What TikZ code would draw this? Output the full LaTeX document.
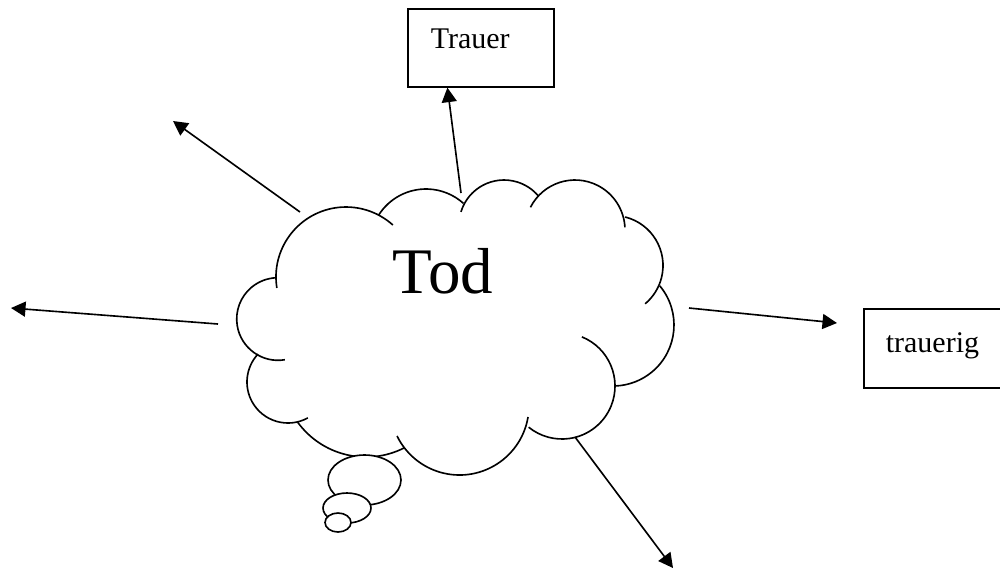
\documentclass[tikz,border=0pt]{standalone}
\usepackage{fontspec}
\setmainfont{Liberation Serif}
\usetikzlibrary{arrows.meta,positioning}
\begin{document}
\begin{tikzpicture}[x=0.4pt,y=-0.4pt,line width=0.65pt,
  wortbox/.style={draw,rectangle,anchor=north west,align=left,inner ysep=0pt,font=\fontsize{12}{14}\selectfont},
  pfeil/.style={-{Triangle[length=5.8pt,width=6pt]}},
  blase/.style={draw,fill=white}]
  \useasboundingbox (0,0) rectangle (1000,569);
  \clip (0,0) rectangle (1000,569);
  \draw (346,277) ++(171:70) arc[start angle=171,end angle=312,radius=70];
  \draw (426,245) ++(212:56) arc[start angle=212,end angle=312,radius=56];
  \draw (504,225) ++(197:45) arc[start angle=197,end angle=320,radius=45];
  \draw (575,230) ++(207:50) arc[start angle=207,end angle=357,radius=50];
  \draw (613,265.5) ++(284:50) arc[start angle=284,end angle=410,radius=50];
  \draw (613,325) ++(320:61) arc[start angle=320,end angle=448,radius=61];
  \draw (562,386) ++(-68:53) arc[start angle=-68,end angle=129,radius=53];
  \draw (459.5,405.5) ++(9.5:69.5) arc[start angle=9.5,end angle=154,radius=69.5];
  \draw (366,372.5) ++(63:84.5) arc[start angle=63,end angle=144,radius=84.5];
  \draw (288,382) ++(61:41) arc[start angle=61,end angle=223,radius=41];
  \draw (278,319) ++(80.5:41.3) arc[start angle=80.5,end angle=268,radius=41.3];
  \draw[blase] (364.5,480) ellipse[x radius=36.5,y radius=25];
  \draw[blase] (347,508) ellipse[x radius=24,y radius=15];
  \draw[blase] (338,522.5) ellipse[x radius=13,y radius=9.5];
  \node[font=\fontsize{26}{31}\selectfont,anchor=base west,inner sep=0pt] (tod) at (392,293) {Tod};
  \node[wortbox,text width=40pt,inner xsep=9.2pt,text height=16pt,text depth=15.2pt] (trauer) at (407,8) {Trauer};
  \node[wortbox,text width=80pt,inner xsep=8.8pt,text height=17.6pt,text depth=14pt] (trauerig) at (863,308) {trauerig};
  \coordinate (p1) at (300,212);
  \coordinate (q1) at (173,121);
  \coordinate (p2) at (218,324);
  \coordinate (q2) at (11,308);
  \coordinate (p3) at (461,193);
  \coordinate (p4) at (689,308);
  \coordinate (q4) at (837,323);
  \coordinate (p5) at (575,437);
  \coordinate (q5) at (673,568);
  \draw[pfeil] (p1) -- (q1);
  \draw[pfeil] (p2) -- (q2);
  \draw[pfeil] (p3) -- (trauer.-130);
  \draw[pfeil] (p4) -- (q4);
  \draw[pfeil] (p5) -- (q5);
\end{tikzpicture}
\end{document}
